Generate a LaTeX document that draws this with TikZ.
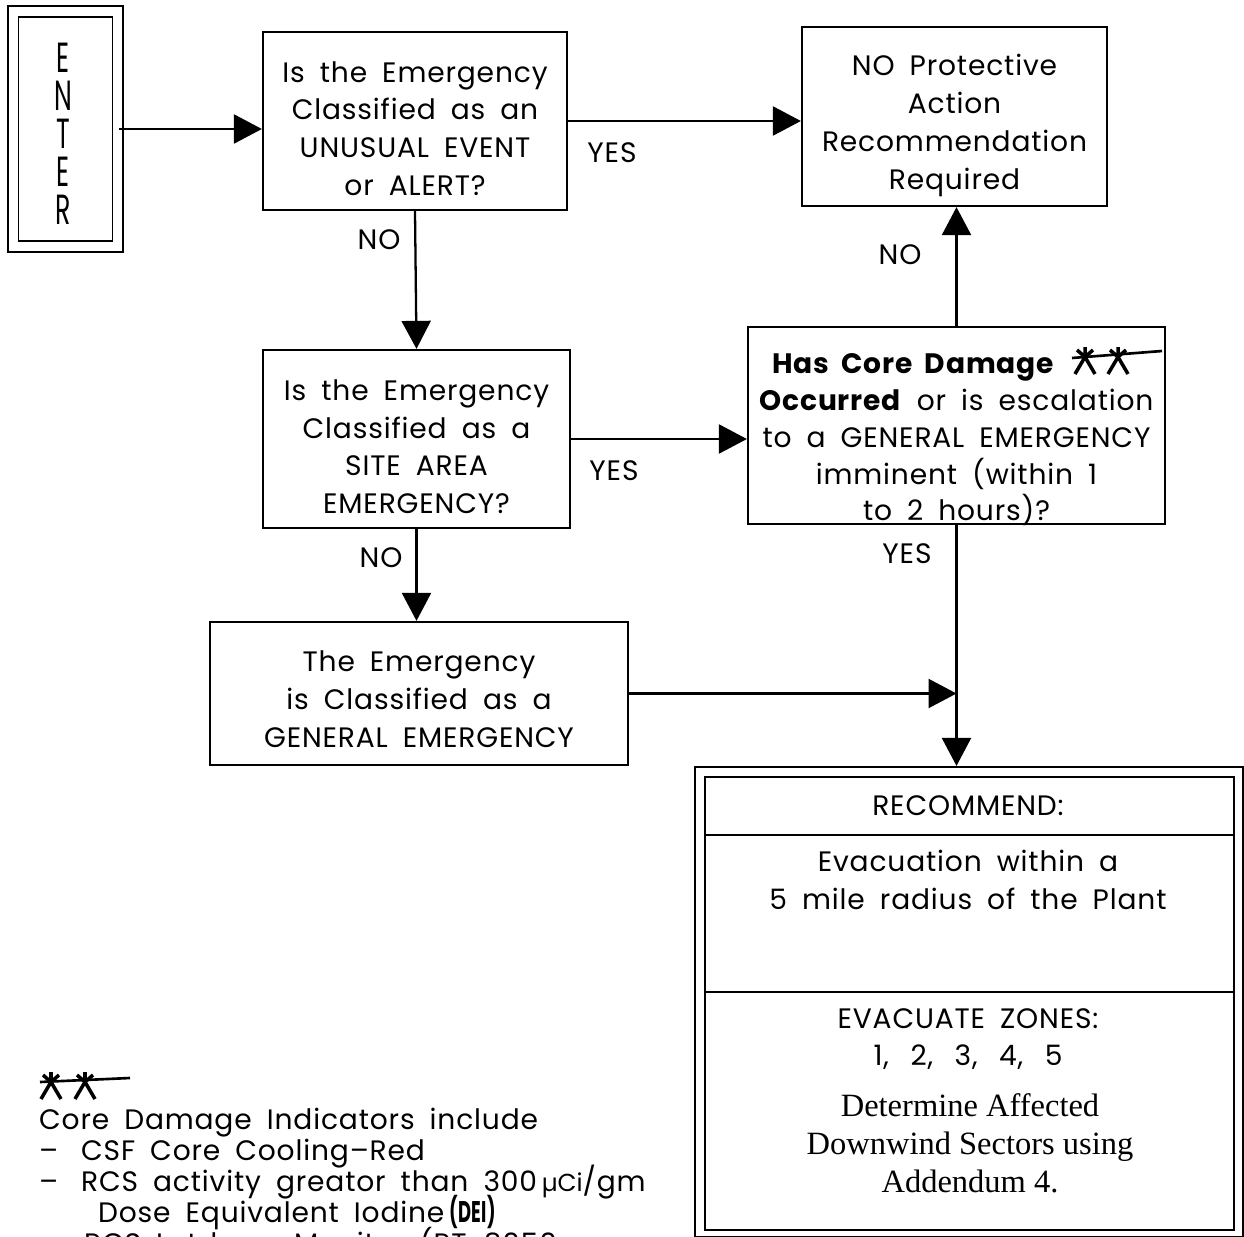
\documentclass[tikz,border=0pt]{standalone}
\usepackage{fontspec}
\setmainfont{Poppins}[LetterSpace=3, WordSpace=1.8]
\newfontfamily\timesface{Liberation Serif}
\usetikzlibrary{positioning, arrows.meta}

\newcommand\tightlines{\lineskiplimit -1cm\relax}
\newcommand\topgap[1][0.72cm]{\rule{0pt}{#1}}

\tikzset{
  flowbox/.style={draw, line width=1.3pt, align=center, inner sep=0pt},
  arr/.style={line width=1.3pt, -{Triangle[length=0.56cm, width=0.58cm]}},
  lbl/.style={inner sep=0pt},
  dmgstar/.pic={
    \draw[line width=2pt] (0,-10) -- (0,0) (-8,-7) -- (0,0) -- (8,-7)
      (-10,17) -- (0,0) -- (10,17);
  }
}

\begin{document}
\begin{tikzpicture}[x=0.02cm, y=-0.02cm, line width=1.3pt,
    font=\fontsize{16}{21.5}\selectfont]
  \useasboundingbox (0,0) rectangle (1244,1237);

  % entry
  \node[draw, double, double distance=0.18cm, line width=1pt,
    minimum width=2.1cm, minimum height=4.7cm, inner sep=0pt] (enter) at (65.5,129) {};
  \foreach \ch [count=\i] in {E,N,T,E,R}
    \node[inner sep=0pt, xscale=0.6, transform shape, font=\fontsize{24}{24}\selectfont]
      (enter\i) at (63,20+38*\i) {\ch};

  % decision boxes
  \node[flowbox, minimum width=6.08cm, minimum height=3.56cm] (unusual) at (415,121)
    {\topgap Is the Emergency\\Classified as an\\UNUSUAL EVENT\\or ALERT?};
  \node[flowbox, minimum width=6.1cm, minimum height=3.58cm] (nopar) at (954.5,116.5)
    {\topgap[0.78cm]NO Protective\\Action\\Recommendation\\Required};
  \node[flowbox, minimum width=6.14cm, minimum height=3.56cm] (sitearea) at (416.5,439)
    {\topgap Is the Emergency\\Classified as a\\SITE AREA\\EMERGENCY?};
  \node[flowbox, inner ysep=-0.16cm, minimum width=8.34cm, minimum height=3.94cm,
    font=\fontsize{16}{21}\selectfont] (coredmg) at (956.5,425.5)
    {\topgap[0.97cm]\textbf{Has Core Damage}\rule{1.72cm}{0pt}\\\textbf{Occurred} or is escalation\\to a GENERAL EMERGENCY\\imminent (within 1\\to 2 hours)?};
  \node[flowbox, minimum width=8.36cm, minimum height=2.86cm] (general) at (419,693.5)
    {\topgap[0.64cm]The Emergency\\is Classified as a\\GENERAL EMERGENCY};

  % core damage marks
  \pic at (1085,357) {dmgstar};
  \pic at (1118,357) {dmgstar};
  \draw[line width=1.5pt] (1072,358) -- (1162,351);

  % recommendation box
  \node[draw, line width=1.3pt, minimum width=10.96cm, minimum height=9.4cm] (rec) at (969,1002) {};
  \draw[line width=1.3pt] (705,777) rectangle (1234,1230);
  \draw[line width=1.3pt] (705,835) -- (1234,835) (705,992) -- (1234,992);
  \node (rechead) at (968,806) {RECOMMEND:};
  \node[align=center] (recevac) at (968,880) {Evacuation within a\\5 mile radius of the Plant};
  \node[align=center] (reczones) at (968,1039)
    {EVACUATE ZONES:\\1,\hspace{0.13cm} 2,\hspace{0.13cm} 3,\hspace{0.13cm} 4,\hspace{0.13cm} 5};
  \node[align=center, font=\timesface\fontsize{18.5}{21.6}\selectfont] (recsect) at (970,1143)
    {Determine Affected\\Downwind Sectors using\\Addendum 4.};

  % connectors
  \draw[arr] (enter.east) -- (enter.east -| unusual.west);
  \draw[arr] (unusual.east) -- (unusual.east -| nopar.west);
  \draw[arr] (unusual.south) -- (sitearea.north);
  \draw[arr] (sitearea.east) -- (sitearea.east -| coredmg.west);
  \draw[arr] (coredmg.north) -- (coredmg.north |- nopar.south);
  \draw[arr] (sitearea.south) -- (sitearea.south |- general.north);
  \coordinate (join) at (coredmg.south |- general.east);
  \draw[arr] (general.east) -- (join);
  \draw[arr] (coredmg.south) -- (coredmg.south |- rec.north);

  % branch labels
  \node[lbl] (yes1) at (612,153) {YES};
  \node[lbl] (no1) at (379,240) {NO};
  \node[lbl] (yes2) at (614,471) {YES};
  \node[lbl] (no2) at (900,255) {NO};
  \node[lbl] (no3) at (381,558) {NO};
  \node[lbl] (yes3) at (907,554) {YES};

  % legend
  \pic at (51,1082) {dmgstar};
  \pic at (85,1082) {dmgstar};
  \draw[line width=1.5pt] (40,1082) -- (130,1078);
  \node[anchor=north west, align=left, inner sep=0pt,
    font=\fontsize{16}{17.6}\selectfont\tightlines] (legend) at (38,1107)
    {Core Damage Indicators include\\
     \makebox[0.84cm][l]{--}CSF Core Cooling--Red\\
     \makebox[0.84cm][l]{--}RCS activity greator than 300\,{\fontsize{14}{14}\selectfont\addfontfeature{LetterSpace=0}µCi}/gm\\
     \hspace*{1.18cm}Dose Equivalent Iodine\,\scalebox{0.6}[1]{\fontsize{17}{17}\selectfont\bfseries(DEI)}\\
     \hspace*{0.9cm}RCS Letdown Monitor (RT-8050 or};
\end{tikzpicture}
\end{document}
